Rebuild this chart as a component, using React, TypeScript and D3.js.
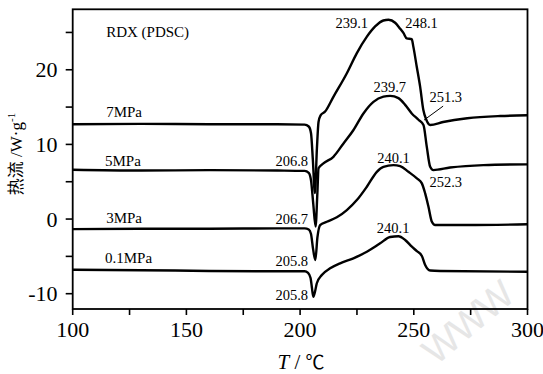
import React from "react";
import * as d3 from "d3";

// ---- data (T in °C, heat flow in W/g) ----
const t7 = [100, 130, 160, 190, 202, 203.8, 204.8, 205.6, 206.5, 207.4, 208.1, 209.0, 211.0, 214.7, 220.5, 224.9, 229.3, 233.0, 236.6, 238.9, 241.8, 244.0, 245.5, 246.9, 249.1, 249.8, 251.3, 252.8, 254.2, 255.5, 257.2, 262.9, 273.5, 288.0, 300];
const v7 = [12.7, 12.75, 12.7, 12.7, 12.65, 12.4, 11.5, 8.0, 3.5, 9.5, 13.0, 13.9, 14.4, 16.4, 19.5, 22.2, 24.4, 25.8, 26.6, 26.7, 26.3, 25.5, 24.9, 24.2, 24.1, 23.1, 20.4, 17.7, 14.6, 13.3, 12.6, 13.0, 13.5, 13.8, 13.9];

const t5 = [100, 130, 160, 190, 202, 203.8, 204.8, 205.8, 206.8, 207.6, 208.1, 210.25, 214.65, 219.0, 223.4, 227.85, 232.25, 236.65, 239.6, 243.25, 246.2, 249.1, 252.05, 254.25, 255.7, 257.2, 258.6, 265.95, 280.6, 300];
const v5 = [6.6, 6.5, 6.55, 6.5, 6.45, 6.2, 5.2, 2.0, -1.0, 3.5, 6.8, 7.46, 8.34, 10.1, 11.9, 14.15, 15.7, 16.4, 16.5, 16.2, 15.3, 14.15, 13.3, 12.6, 9.7, 7.0, 6.56, 6.9, 7.23, 7.33];

const t3 = [100, 130, 160, 190, 202, 203.8, 204.8, 205.7, 206.7, 207.6, 208.8, 211.75, 216.15, 220.55, 224.95, 229.35, 233.75, 236.65, 241.05, 244.0, 247.65, 251.35, 253.55, 255.0, 256.45, 257.95, 259.4, 273.3, 300];
const v3 = [-1.35, -1.3, -1.3, -1.25, -1.25, -1.4, -2.0, -4.0, -5.5, -2.5, -0.8, -0.36, 0.23, 1.2, 2.54, 4.33, 6.33, 7.0, 7.23, 7.1, 6.33, 5.45, 4.78, 3.44, 1.65, -0.36, -0.8, -0.8, -0.7];

const t01 = [100, 130, 160, 190, 202, 203.5, 204.6, 205.2, 205.8, 206.5, 207.35, 209.55, 213.2, 217.6, 223.45, 229.35, 235.2, 239.6, 243.25, 246.2, 249.15, 251.35, 253.55, 255.0, 257.2, 261.6, 300];
const v01 = [-6.8, -6.85, -6.95, -7.0, -7.0, -7.2, -7.9, -9.2, -10.4, -9.8, -8.6, -7.5, -6.6, -5.93, -5.26, -4.38, -3.25, -2.4, -2.3, -2.8, -3.7, -4.3, -4.95, -6.16, -6.9, -6.96, -7.06];

const xTicks = [100, 125, 150, 175, 200, 225, 250, 275, 300];
const xTickLabels = [100, 150, 200, 250, 300];
const yTicks = [-10, -5, 0, 5, 10, 15, 20, 25];
const yTickLabels = [-10, 0, 10, 20];

// text labels anchored in data coordinates
const seriesLabels = ["RDX (PDSC)", "7MPa", "5MPa", "3MPa", "0.1MPa"];
const seriesLabelT = [114.7, 114.7, 114.2, 114.7, 114.2];
const seriesLabelV = [24.37, 13.66, 7.1, -0.54, -5.89];

const peakLabels = ["239.1", "248.1", "239.7", "251.3", "240.1", "252.3", "240.1", "206.8", "206.7", "205.8", "205.8"];
const peakLabelT = [229.9, 246.2, 239.4, 256.9, 241.1, 256.9, 240.9, 203.5, 203.5, 203.5, 203.5];
const peakLabelV = [25.58, 25.58, 17.0, 15.67, 7.5, 4.29, -1.87, 7.1, -0.67, -6.29, -10.85];
const peakAnchor = ["end", "start", "middle", "start", "middle", "start", "middle", "end", "end", "end", "end"];

const leaderT = [262.9, 254.5];
const leaderV = [15.13, 13.26];

const series = [
  { t: t7, v: v7 },
  { t: t5, v: v5 },
  { t: t3, v: v3 },
  { t: t01, v: v01 },
];

const W = 543;
const H = 374;
const serif = "Liberation Serif, Tinos, Times New Roman, DejaVu Serif, serif";
const cjk = "Noto Sans CJK SC, sans-serif";

export default function App() {
  const x = d3.scaleLinear().domain([100, 300]).range([72.7, 527.5]);
  const y = d3.scaleLinear().domain([-12.05, 28.1]).range([309, 9.3]);
  const line = d3
    .line<[number, number]>()
    .x((d) => x(d[0]))
    .y((d) => y(d[1]))
    .curve(d3.curveMonotoneX);

  const [x0, x1] = x.range();
  const [yb, yt] = y.range();

  return (
    <svg
      width={W}
      height={H}
      viewBox={`0 0 ${W} ${H}`}
      style={{ position: "absolute", left: 0, top: 0, background: "#fff" }}
    >
      <rect x={0} y={0} width={W} height={H} fill="#fff" />

      {/* watermark */}
      <text
        transform="translate(436,366) rotate(-40)"
        style={{ fontFamily: "Liberation Sans, sans-serif" }}
        fontSize={38}
        fill="#e6e6e6"
        letterSpacing={-1}
      >
        WWW
      </text>

      {/* curves */}
      {series.map((s, i) => (
        <path
          key={i}
          d={line(s.t.map((t, j) => [t, s.v[j]] as [number, number])) || ""}
          fill="none"
          stroke="#000"
          strokeWidth={2.4}
          strokeLinejoin="round"
        />
      ))}

      {/* frame */}
      <rect
        x={x0}
        y={yt}
        width={x1 - x0}
        height={yb - yt}
        fill="none"
        stroke="#000"
        strokeWidth={1.8}
      />

      {/* x ticks */}
      {xTicks.map((t) => (
        <line key={"xt" + t} x1={x(t)} x2={x(t)} y1={yb} y2={yb + 6} stroke="#000" strokeWidth={1.6} />
      ))}
      {xTickLabels.map((t) => (
        <text key={"xl" + t} x={x(t)} y={337} textAnchor="middle" style={{ fontFamily: serif }} fontSize={22}>
          {t}
        </text>
      ))}

      {/* y ticks */}
      {yTicks.map((v) => (
        <line key={"yt" + v} x1={x0 - 7} x2={x0} y1={y(v)} y2={y(v)} stroke="#000" strokeWidth={1.6} />
      ))}
      {yTickLabels.map((v) => (
        <text
          key={"yl" + v}
          x={57.5}
          y={y(v) + 7.5}
          textAnchor="end"
          style={{ fontFamily: serif }}
          fontSize={22}
        >
          {v < 0 ? "-" + Math.abs(v) : v}
        </text>
      ))}

      {/* axis titles */}
      <text x={301} y={369} textAnchor="middle" style={{ fontFamily: serif }} fontSize={21}>
        <tspan fontStyle="italic">T</tspan>
        <tspan> / </tspan>
        <tspan style={{ fontFamily: cjk }} fontSize={19}>℃</tspan>
      </text>
      <text
        transform="translate(22,154) rotate(-90)"
        textAnchor="middle"
        style={{ fontFamily: serif }}
        fontSize={17}
      >
        <tspan style={{ fontFamily: cjk }}>热流</tspan>
        <tspan> /W·g</tspan>
        <tspan fontSize={11} dy={-7}>-1</tspan>
      </text>

      {/* series labels */}
      {seriesLabels.map((s, i) => (
        <text key={"sl" + i} x={x(seriesLabelT[i])} y={y(seriesLabelV[i])} style={{ fontFamily: serif }} fontSize={15}>
          {s}
        </text>
      ))}

      {/* peak labels */}
      {peakLabels.map((s, i) => (
        <text
          key={"pl" + i}
          x={x(peakLabelT[i])}
          y={y(peakLabelV[i])}
          textAnchor={peakAnchor[i] as any}
          style={{ fontFamily: serif }}
          fontSize={14.5}
        >
          {s}
        </text>
      ))}
      <line
        x1={x(leaderT[0])}
        y1={y(leaderV[0])}
        x2={x(leaderT[1])}
        y2={y(leaderV[1])}
        stroke="#000"
        strokeWidth={1}
      />
    </svg>
  );
}
